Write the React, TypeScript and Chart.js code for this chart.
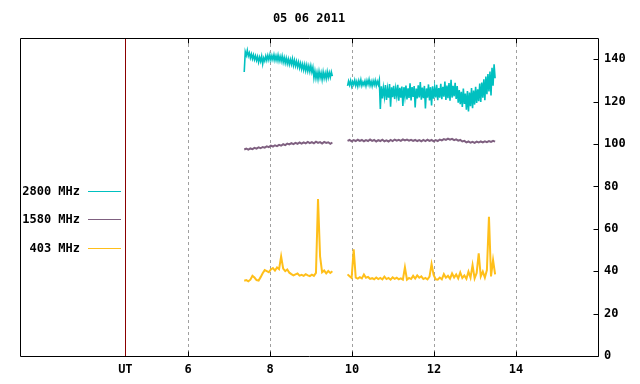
import React, { useEffect, useRef } from 'react';
import { Chart, registerables } from 'chart.js';

Chart.register(...registerables);

const TITLE = '05 06 2011';
const SERIES_NAMES = ['2800 MHz', '1580 MHz', '403 MHz'];
const SERIES_COLORS = ['#00c0c0', '#7f6080', '#ffbf1a'];
const X_TICKS = [6, 8, 10, 12, 14];
const UT_POS = 4.47;
const UT_LABEL = 'UT';
const Y_TICKS = [0, 20, 40, 60, 80, 100, 120, 140];
const X_MIN = 1.9;
const X_MAX = 16;
const Y_MIN = 0;
const Y_MAX = 150;

// sampling: segment 1 starts at 7.37 h, segment 2 at 9.89 h
const SEG1_START = 7.37;
const SEG2_START = 9.89;
const STEP_2800 = 0.025;
const STEP = 0.05;
const GAP_AT = 9.7;

const f2800a = [134.0, 143.5, 141.8, 144.2, 141.5, 143.0, 140.6, 142.4, 140.2, 142.0,
  139.8, 141.6, 139.4, 141.2, 138.6, 140.9, 139.0, 141.4, 137.8, 140.6,
  139.2, 141.5, 139.5, 141.8, 139.7, 142.0, 139.6, 141.7, 139.8, 142.1,
  139.5, 141.6, 139.4, 141.9, 139.2, 141.3, 139.0, 141.5, 138.6, 140.8,
  138.2, 140.5, 137.9, 140.1, 137.5, 139.8, 137.6, 140.2, 137.1, 139.5,
  136.8, 139.0, 136.4, 138.6, 135.9, 138.1, 135.4, 137.7, 135.0, 137.5,
  134.6, 137.2, 134.4, 136.8, 134.2, 136.9, 134.0, 136.2, 131.2, 134.4,
  131.0, 133.8, 130.6, 134.2, 131.2, 133.6, 130.4, 134.0, 131.0, 133.4,
  130.8, 134.1, 131.3, 133.7, 131.5, 134.0, 132.0];
const f2800b = [127.4, 129.6, 127.8, 129.9, 127.3, 129.4, 128.0, 130.1, 127.6, 129.5,
  127.2, 129.8, 127.9, 130.3, 127.5, 129.2, 127.8, 129.7, 127.4, 129.9,
  128.1, 130.4, 127.6, 129.5, 127.3, 129.8, 127.9, 130.0, 127.5, 129.6,
  128.0, 130.2, 116.5, 127.2, 121.5, 126.4, 122.3, 127.8, 120.8, 126.0,
  121.9, 128.3, 117.6, 126.7, 122.1, 127.5, 121.2, 126.2, 122.6, 127.9,
  120.4, 126.5, 121.8, 127.1, 118.0, 126.8, 122.4, 127.6, 121.0, 126.3,
  121.7, 128.6, 120.6, 126.9, 122.2, 127.3, 117.2, 126.1, 121.5, 127.7,
  122.0, 129.2, 120.9, 126.6, 121.6, 127.4, 116.8, 126.2, 121.9, 128.1,
  120.5, 126.8, 118.2, 127.2, 121.4, 126.5, 122.0, 127.9, 120.7, 126.4,
  121.8, 128.4, 121.1, 127.0, 122.3, 129.5, 120.8, 127.6, 121.6, 128.8,
  120.4, 130.3, 121.9, 127.4, 122.5, 128.9, 121.2, 127.3, 119.5, 125.4,
  118.8, 124.6, 117.5, 126.1, 118.9, 123.8, 116.2, 125.0, 115.4, 124.3,
  117.8, 126.4, 116.9, 125.2, 118.6, 127.0, 119.4, 125.8, 120.2, 128.5,
  119.8, 129.0, 121.8, 130.5, 120.6, 131.8, 123.5, 133.0, 124.8, 134.2,
  122.9, 136.0, 127.5, 137.6, 131.0];

const f1580a = [97.4, 97.8, 97.3, 97.9, 97.6, 98.2, 97.8, 98.4, 98.0, 98.6,
  98.3, 98.9, 98.5, 99.2, 98.8, 99.4, 99.0, 99.6, 99.2, 99.9,
  99.5, 100.2, 99.8, 100.4, 99.9, 100.5, 100.1, 100.7, 100.2, 100.8,
  100.3, 101.0, 100.4, 100.9, 100.3, 101.1, 100.5, 100.9, 100.2, 101.0,
  100.5, 100.8, 100.1, 100.7];
const f1580b = [101.5, 101.9, 101.3, 101.8, 101.4, 102.0, 101.5, 101.9, 101.3, 101.8,
  101.4, 102.1, 101.5, 101.9, 101.2, 101.8, 101.4, 102.0, 101.3, 101.7,
  101.2, 101.9, 101.4, 102.1, 101.6, 102.0, 101.5, 102.2, 101.7, 102.1,
  101.6, 102.0, 101.5, 101.9, 101.4, 101.8, 101.3, 101.9, 101.4, 102.0,
  101.5, 101.9, 101.3, 101.8, 101.4, 102.1, 101.7, 102.3, 101.9, 102.5,
  102.0, 102.4, 101.8, 102.2, 101.6, 101.9, 101.2, 101.5, 100.8, 101.2,
  100.6, 101.0, 100.5, 101.1, 100.7, 101.2, 100.8, 101.3, 100.9, 101.4,
  101.0, 101.5, 101.1];

const f403a = [35.5, 35.8, 35.2, 36.0, 37.8, 37.0, 35.8, 35.6, 37.2, 39.0,
  40.5, 40.0, 39.5, 40.8, 41.5, 40.3, 41.8, 41.0, 47.0, 41.2,
  40.0, 40.8, 39.3, 38.6, 38.0, 38.5, 38.9, 37.9, 38.3, 37.8,
  38.6, 38.0, 37.7, 38.4, 37.8, 39.2, 74.0, 47.0, 39.5, 40.3,
  39.0, 40.1, 39.2, 40.0];
const f403b = [38.5, 37.6, 36.8, 50.3, 37.0, 36.5, 37.2, 36.6, 38.4, 36.9,
  37.3, 36.4, 36.7, 36.2, 37.0, 36.3, 36.8, 36.1, 37.4, 36.3,
  36.8, 36.0, 37.1, 36.4, 36.9, 36.2, 36.6, 36.0, 41.8, 36.0,
  36.8, 36.3, 37.8, 36.5, 38.0, 36.9, 37.6, 36.3, 36.8, 36.1,
  37.4, 43.4, 38.2, 36.2, 36.0, 37.0, 36.2, 38.6, 36.9, 37.8,
  36.5, 38.9, 37.0, 38.5, 36.6, 39.4, 36.8, 38.0, 36.4, 39.8,
  37.0, 42.9, 36.6, 39.2, 48.4, 37.5, 39.8, 37.0, 40.5, 65.7,
  37.5, 45.3, 38.5];

const FONT = { family: "'DejaVu Sans Mono', monospace", size: 12, weight: 'bold' as const };

function buildPoints(a: number[], b: number[], step: number) {
  const pts: { x: number; y: number | null }[] = [];
  a.forEach((v, i) => pts.push({ x: +(SEG1_START + i * step).toFixed(4), y: v }));
  pts.push({ x: GAP_AT, y: null });
  b.forEach((v, i) => pts.push({ x: +(SEG2_START + i * step).toFixed(4), y: v }));
  return pts;
}

const framePlugin = {
  id: 'gnuFrame',
  beforeDatasetsDraw(chart: any) {
    const { ctx, chartArea: a, scales } = chart;
    const x = scales.x;
    ctx.save();
    ctx.lineWidth = 1;
    ctx.strokeStyle = '#a0a0a0';
    ctx.setLineDash([3, 3]);
    for (const t of X_TICKS) {
      const px = Math.round(x.getPixelForValue(t)) + 0.5;
      ctx.beginPath();
      ctx.moveTo(px, a.top);
      ctx.lineTo(px, a.bottom);
      ctx.stroke();
    }
    ctx.setLineDash([]);
    ctx.strokeStyle = '#8b0000';
    const ux = Math.round(x.getPixelForValue(UT_POS)) + 0.5;
    ctx.beginPath();
    ctx.moveTo(ux, a.top);
    ctx.lineTo(ux, a.bottom);
    ctx.stroke();
    ctx.restore();
  },
  afterDatasetsDraw(chart: any) {
    const { ctx, chartArea: a, scales } = chart;
    const x = scales.x;
    const y = scales.y;
    const L = Math.round(a.left) + 0.5;
    const R = Math.round(a.right) + 0.5;
    const T = Math.round(a.top) + 0.5;
    const B = Math.round(a.bottom) + 0.5;
    ctx.save();
    ctx.lineWidth = 1;
    ctx.strokeStyle = '#000';
    ctx.beginPath();
    ctx.rect(L, T, R - L, B - T);
    ctx.stroke();
    for (const t of X_TICKS) {
      const px = Math.round(x.getPixelForValue(t)) + 0.5;
      ctx.beginPath();
      ctx.moveTo(px, T);
      ctx.lineTo(px, T + 5);
      ctx.moveTo(px, B);
      ctx.lineTo(px, B - 5);
      ctx.stroke();
    }
    for (const t of Y_TICKS) {
      const py = Math.round(y.getPixelForValue(t)) + 0.5;
      ctx.beginPath();
      ctx.moveTo(R - 5, py);
      ctx.lineTo(R, py);
      ctx.stroke();
    }
    ctx.font = `bold ${FONT.size}px ${FONT.family}`;
    ctx.fillStyle = '#000';
    ctx.textAlign = 'center';
    ctx.textBaseline = 'middle';
    ctx.fillText(TITLE, (a.left + a.right) / 2, 19);
    ctx.textAlign = 'right';
    const rows = [191.5, 219.5, 248.5];
    SERIES_NAMES.forEach((name, i) => {
      ctx.fillText(name, 80, rows[i]);
      ctx.strokeStyle = SERIES_COLORS[i];
      ctx.beginPath();
      ctx.moveTo(88, rows[i]);
      ctx.lineTo(121, rows[i]);
      ctx.stroke();
    });
    ctx.restore();
  },
};

export default function App() {
  const ref = useRef<HTMLCanvasElement | null>(null);
  useEffect(() => {
    if (!ref.current) return;
    const series = [
      buildPoints(f2800a, f2800b, STEP_2800),
      buildPoints(f1580a, f1580b, STEP),
      buildPoints(f403a, f403b, STEP),
    ];
    const chart = new Chart(ref.current, {
      type: 'line',
      data: {
        datasets: series.map((d, i) => ({
          label: SERIES_NAMES[i],
          data: d as any,
          borderColor: SERIES_COLORS[i],
          backgroundColor: SERIES_COLORS[i],
          borderWidth: i === 0 ? 1.6 : 2,
          pointRadius: 0,
          tension: 0,
          spanGaps: false,
          fill: false,
        })),
      },
      options: {
        animation: false,
        responsive: false,
        maintainAspectRatio: false,
        layout: { padding: { left: 20, top: 38, right: 0, bottom: 0 } },
        plugins: {
          legend: { display: false },
          tooltip: { enabled: false },
          title: { display: false },
        },
        scales: {
          x: {
            type: 'linear',
            position: 'bottom',
            min: X_MIN,
            max: X_MAX,
            grid: { display: false, drawTicks: false, tickLength: 0 },
            border: { display: false },
            afterBuildTicks: (s: any) => {
              s.ticks = [UT_POS, ...X_TICKS].map((v) => ({ value: v }));
            },
            afterFit: (s: any) => {
              s.height = 28;
            },
            ticks: {
              color: '#000',
              font: FONT,
              padding: 7,
              maxRotation: 0,
              autoSkip: false,
              callback: (v: any) => (v === UT_POS ? UT_LABEL : String(v)),
            },
          },
          y: {
            type: 'linear',
            position: 'right',
            min: Y_MIN,
            max: Y_MAX,
            grid: { display: false, drawTicks: false, tickLength: 0 },
            border: { display: false },
            afterBuildTicks: (s: any) => {
              s.ticks = Y_TICKS.map((v) => ({ value: v }));
            },
            afterFit: (s: any) => {
              s.width = 42;
            },
            ticks: {
              color: '#000',
              font: FONT,
              padding: 6,
              autoSkip: false,
              callback: (v: any) => String(v),
            },
          },
        },
      },
      plugins: [framePlugin],
    });
    return () => chart.destroy();
  }, []);
  return (
    <div style={{ position: 'absolute', left: 0, top: 0, width: 640, height: 384, background: '#fff' }}>
      <canvas ref={ref} width={640} height={384} />
    </div>
  );
}
